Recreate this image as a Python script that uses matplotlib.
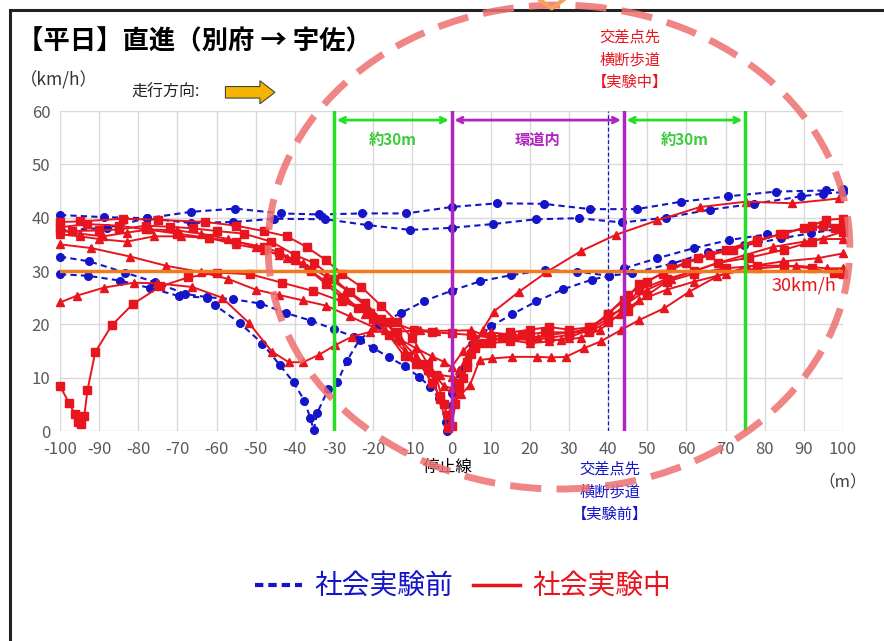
import numpy as np
import matplotlib
matplotlib.use("Agg")
import matplotlib.pyplot as plt
from matplotlib.lines import Line2D
from matplotlib.patches import Ellipse, FancyArrow

plt.rcParams['font.family'] = ['Noto Sans CJK JP', 'DejaVu Sans']
plt.rcParams['axes.unicode_minus'] = False

# --- 社会実験前 (blue, dashed) ---
b1_x = [-100, -88.7, -77.8, -66.5, -55.2, -43.5, -33.8, -22.8, -11.5, 0, 11.7, 23.5, 35.5, 47.3, 58.7, 70.6, 83, 95.6, 100]
b1_y = [40.5, 40.1, 39.9, 41.1, 41.7, 40.8, 40.6, 40.8, 40.8, 42.0, 42.7, 42.6, 41.6, 41.6, 43.0, 44.0, 44.9, 45.1, 45.3]
b2_x = [-100, -88, -77.8, -66.5, -55.7, -45.3, -32.2, -21.3, -10.5, 0, 10.5, 21.5, 32.5, 43.6, 54.7, 66, 77.3, 89.3, 95, 100]
b2_y = [37.6, 38.1, 39.9, 39.0, 39.2, 39.8, 39.7, 38.6, 37.7, 38.1, 38.8, 39.7, 39.9, 39.1, 40.0, 41.5, 42.6, 44.0, 44.5, 44.8]
b3_x = [-100, -92.5, -83.4, -75.7, -68, -62.5, -55.7, -48.8, -42.2, -35.9, -30.1, -25, -20.1, -15.9, -11.8, -8.4, -5.4, -3.2, -1.5, -1.1,
        0, 2.3, 5.3, 10, 15.5, 21.7, 28.6, 36, 40.2, 46, 56.4, 65.4, 74.8, 84.1, 91.8, 100]
b3_y = [32.7, 31.8, 29.7, 27.9, 25.7, 25.1, 24.7, 23.9, 22.1, 20.7, 19.1, 17.7, 15.6, 13.8, 12.1, 10.2, 8.3, 6.1, 1.7, 0.0,
        7.1, 11.4, 16.4, 19.6, 21.9, 24.3, 26.6, 28.4, 29.1, 29.6, 31.4, 33.5, 34.8, 36.1, 37.1, 38.0]
b4_x = [-100, -92.8, -84.7, -77, -69.6, -62.5, -60.4, -54, -48.3, -43.9, -40.3, -37.6, -36.1, -35.2, -34.3, -31.5, -29.2, -26.7, -23.5,
        -18.6, -13, -6.9, 0, 7.4, 15.1, 24, 32.1, 40.2, 44.1, 52.6, 62, 70.9, 80.7, 91, 100]
b4_y = [29.4, 29.1, 28.2, 26.8, 25.3, 25.0, 23.6, 20.2, 16.4, 12.4, 9.1, 5.7, 2.5, 0.2, 3.4, 7.8, 9.1, 13.2, 17.1,
        19.9, 22.1, 24.4, 26.3, 28.1, 29.2, 30.2, 29.9, 29.1, 30.5, 32.4, 34.3, 35.8, 36.9, 38.0, 38.6]

# --- 社会実験中 (red, solid) ---
r1_x = [-100, -95, -89, -83, -77, -70, -64, -57, -50, -44, -38, -32, -27, -22, -17, -13, -9, -5, -2, 0,
        2, 5, 8, 10.8, 17.2, 24.5, 33, 42, 52.6, 63.5, 75.2, 87.1, 99]
r1_y = [37.7, 37.0, 36.5, 37.2, 37.8, 37.6, 37.0, 36.0, 34.5, 33.0, 31.5, 29.0, 26.5, 23.5, 20.5, 17.0, 14.0, 11.0, 8.5, 8.0,
        11.5, 15.5, 19.0, 22.4, 26.1, 29.9, 33.7, 36.8, 39.5, 42.0, 43.0, 42.7, 43.6]
r2_x = [-100, -95, -84, -75, -63, -55, -48, -42, -37, -32, -28, -23, -18, -14, -10, -6, -3, -1,
        1, 3, 5, 8, 13, 18, 24, 30, 35, 40, 45, 50, 56, 63, 70, 78, 85, 92, 95.7, 100]
r2_y = [39.2, 39.3, 39.8, 39.6, 39.2, 38.5, 37.5, 36.5, 34.5, 32.0, 29.5, 27.0, 23.5, 20.5, 17.5, 12.5, 6.0, 0.5,
        5.0, 10.0, 14.5, 16.5, 17.5, 18.0, 18.5, 18.5, 19.0, 22.0, 25.5, 28.0, 30.5, 32.5, 34.0, 35.8, 37.0, 38.5, 39.6, 39.8]
r3_x = [-100, -97, -90, -85, -78, -72, -66, -60, -53, -46, -40, -35, -30, -26, -22, -18, -14, -11, -8, -5, -3, -1,
        2, 4, 6, 10, 15, 20, 25, 30, 35, 40, 44, 48, 55, 62, 68, 76, 85, 92, 100]
r3_y = [37.3, 37.5, 37.6, 37.8, 38.5, 38.3, 38.0, 37.5, 37.0, 35.5, 33.0, 31.5, 28.5, 26.0, 24.0, 21.0, 18.5, 14.0, 12.5, 9.0, 6.5, 3.0,
        8.0, 12.0, 16.0, 17.0, 17.5, 17.0, 17.5, 18.0, 19.5, 21.5, 23.0, 26.5, 28.5, 30.0, 31.5, 32.5, 34.0, 35.5, 37.4]
r4_x = [-100, -95, -90, -83, -76, -69, -62, -55, -48, -42, -37, -32, -27, -22, -17, -12, -9, -6, -3, 0,
        2.5, 4.7, 7.2, 10.4, 15.5, 21.9, 25.3, 29.2, 33.8, 38.1, 43.2, 47.9, 54.3, 60.7, 67.9, 75.6, 84.6, 93.5, 100]
r4_y = [36.9, 36.5, 36.0, 35.5, 36.5, 36.5, 36.2, 35.0, 34.0, 32.5, 30.5, 28.0, 25.0, 22.0, 19.0, 15.0, 13.0, 11.5, 10.5, 10.2,
        6.9, 8.6, 13.3, 13.6, 13.9, 13.9, 13.8, 13.9, 15.5, 16.8, 18.9, 20.8, 23.0, 26.1, 29.0, 30.8, 31.8, 32.4, 33.3]
r5_x = [-100, -92, -82, -73, -64, -57, -50, -44, -38, -32, -26, -20, -14, -9, -5, -2, 0,
        3, 6, 10, 16, 22, 28, 33, 38, 43, 48, 55, 62, 70, 78, 88, 96, 100]
r5_y = [35.0, 34.3, 32.7, 31.0, 29.8, 28.5, 26.5, 25.5, 24.5, 23.5, 21.5, 19.5, 17.5, 15.5, 14.0, 13.0, 12.0,
        15.0, 17.5, 18.5, 18.0, 17.5, 17.0, 17.5, 19.0, 22.0, 24.5, 26.5, 28.0, 29.5, 30.5, 31.0, 30.5, 30.5]
r6_x = [-100, -95.6, -88.7, -81.2, -75.3, -66.2, -58.6, -51.8, -45.9, -41.6, -37.9, -33.8, -29.7, -25.4, -20.7, -14.3, -8, -4, 0,
        5, 10, 15, 20, 25, 30, 35, 40, 45, 50, 56, 62, 68, 75, 82, 90, 95, 100]
r6_y = [24.1, 25.4, 26.9, 27.8, 27.7, 27.0, 25.0, 20.3, 14.9, 12.9, 12.9, 14.3, 16.1, 17.7, 18.6, 18.6, 18.9, 18.8, 18.8,
        18.9, 17.5, 17.0, 16.5, 16.8, 17.5, 19.0, 21.0, 24.0, 26.5, 28.5, 30.0, 31.5, 33.0, 34.5, 35.5, 36.0, 36.0]
r7_x = [-100, -97.7, -96.2, -95.3, -94.6, -93.8, -93, -91, -86.8, -81.4, -74.4, -67.3, -59.9, -51.4, -43.3, -35.5, -28, -20.7, -15.6,
        -9.6, -5, 0, 5, 10, 15, 20, 25, 30, 36, 40, 44, 48, 54, 60, 66, 72, 78, 84, 90, 95, 98, 100]
r7_y = [8.4, 5.3, 3.1, 1.7, 1.4, 2.9, 7.6, 14.8, 19.8, 23.8, 27.1, 28.8, 29.7, 29.4, 27.8, 26.3, 24.3, 22.2, 20.5,
        18.9, 18.5, 18.3, 18.0, 17.5, 18.5, 19.0, 19.5, 19.0, 19.5, 22.0, 24.5, 27.5, 29.5, 31.5, 33.0, 34.0, 35.5, 37.0, 38.0, 38.5, 38.0, 38.0]
r8_x = [-100, -93, -85, -78, -70, -62, -55, -48, -44, -40, -36, -32, -28, -24, -20, -16, -12, -9, -6, -4, -2, 0,
        2, 4, 6, 10, 15, 20, 25, 30, 35, 40, 45, 50, 55, 62, 70, 78, 85, 92, 97.7, 100]
r8_y = [38.2, 38.8, 38.5, 37.8, 37.0, 36.2, 35.5, 34.5, 33.5, 32.0, 30.0, 27.5, 25.0, 23.0, 21.0, 18.0, 14.0, 12.5, 11.5, 10.5, 5.0, 1.0,
        9.0, 13.0, 15.5, 16.5, 16.8, 17.5, 18.0, 18.5, 18.5, 20.5, 22.5, 25.5, 28.0, 29.5, 30.5, 31.0, 31.0, 30.5, 29.6, 29.5]

before_series = [(b1_x, b1_y), (b2_x, b2_y), (b3_x, b3_y), (b4_x, b4_y)]
during_series = [(r1_x, r1_y, '^'), (r2_x, r2_y, 's'), (r3_x, r3_y, 's'), (r4_x, r4_y, '^'),
                 (r5_x, r5_y, '^'), (r6_x, r6_y, '^'), (r7_x, r7_y, 's'), (r8_x, r8_y, 's')]

x_ticks = list(range(-100, 101, 10))
y_ticks = list(range(0, 61, 10))
limit_speed = 30
stop_line = 0
ring_end = 44
cross_before = 40
green_left = -30
green_right = 75

BLUE = '#1414C8'
RED = '#E8141E'
GREEN = '#22E022'
MAGENTA = '#B024C0'
ORANGE = '#F07A1E'

fig = plt.figure(figsize=(8.84, 6.41), dpi=100)
ax = fig.add_axes([0.0679, 0.3276, 0.8857, 0.4992])

ax.set_xlim(-100, 100)
ax.set_ylim(0, 60)
ax.set_xticks(x_ticks)
ax.set_yticks(y_ticks)
ax.tick_params(length=0, labelsize=12, colors='#595959', pad=7)
ax.grid(True, color='#d9d9d9', lw=1)
ax.set_axisbelow(True)
for s in ax.spines.values():
    s.set_visible(False)

for xs, ys in before_series:
    ax.plot(xs, ys, ls=(0, (3, 2)), color=BLUE, lw=1.5, marker='o', ms=5.5, clip_on=False, zorder=3)
for xs, ys, m in during_series:
    ax.plot(xs, ys, ls='-', color=RED, lw=1.4, marker=m, ms=5.5, clip_on=False, zorder=4)

ax.axhline(limit_speed, color=ORANGE, lw=2.5, zorder=5)
ax.axvline(cross_before, color=BLUE, lw=0.9, ls=(0, (3, 2)), zorder=2)
for xv in (green_left, green_right):
    ax.axvline(xv, color=GREEN, lw=2.5, zorder=6)
for xv in (stop_line, ring_end):
    ax.axvline(xv, color=MAGENTA, lw=2.5, zorder=6)

arrow_y = 58.3
ax.annotate('', xy=(green_left, arrow_y), xytext=(stop_line, arrow_y),
            arrowprops=dict(arrowstyle='<->', color=GREEN, lw=2))
ax.annotate('', xy=(stop_line, arrow_y), xytext=(ring_end, arrow_y),
            arrowprops=dict(arrowstyle='<->', color=MAGENTA, lw=2))
ax.annotate('', xy=(ring_end, arrow_y), xytext=(green_right, arrow_y),
            arrowprops=dict(arrowstyle='<->', color=GREEN, lw=2))
ax.text(-15, 54.6, '約30m', color='#3CCB3C', fontsize=11, fontweight='bold', ha='center', va='center')
ax.text(22, 54.6, '環道内', color=MAGENTA, fontsize=11, fontweight='bold', ha='center', va='center')
ax.text(59.5, 54.6, '約30m', color='#3CCB3C', fontsize=11, fontweight='bold', ha='center', va='center')

ax.text(90, 27.2, '30km/h', color=RED, fontsize=13, ha='center', va='center', zorder=7)
ax.text(-1, -6.9, '停止線', color='black', fontsize=12, ha='center', va='center', clip_on=False)
ax.text(40.5, -5.5, '交差点先\n横断歩道\n【実験前】', color=BLUE, fontsize=11, ha='center', va='top',
        linespacing=1.45, clip_on=False)
ax.text(45.5, 75.5, '交差点先\n横断歩道\n【実験中】', color=RED, fontsize=11, ha='center', va='top',
        linespacing=1.45, clip_on=False)
ax.text(100, -9.6, '（m）', color='#404040', fontsize=12, ha='center', va='center', clip_on=False)

# frame lines (left and top only)
fig.add_artist(Line2D([0.0113, 0.0113], [0, 0.984], color='#222222', lw=2.2, transform=fig.transFigure))
fig.add_artist(Line2D([0.0113, 1.0], [0.984, 0.984], color='#222222', lw=2.2, transform=fig.transFigure))

fig.text(0.019, 0.934, '【平日】直進（別府 → 宇佐）', fontsize=19, fontweight='bold', ha='left', va='center', color='black')
fig.text(0.022, 0.875, '（km/h）', fontsize=12.5, ha='left', va='center', color='#333333')
fig.text(0.149, 0.856, '走行方向:', fontsize=11.5, ha='left', va='center', color='#222222')
fig.add_artist(FancyArrow(0.255, 0.856, 0.056, 0, width=0.018, head_width=0.036, head_length=0.017,
                          length_includes_head=True, transform=fig.transFigure,
                          facecolor='#F5B400', edgecolor='#444444', lw=0.8))

# big dashed highlight ellipse
fig.add_artist(Ellipse((0.6323, 0.6146), 0.658, 0.755, transform=fig.transFigure, fill=False,
                       edgecolor='#EE7070', alpha=0.85, lw=5, ls=(0, (4.5, 2.2)), zorder=10))
fig.add_artist(Line2D([0.611, 0.6241, 0.637], [1.0, 0.987, 1.0], color='#F5A25A', lw=3,
                      transform=fig.transFigure, zorder=11))

handles = [Line2D([], [], color=BLUE, lw=3, ls=(0, (2, 1.2))),
           Line2D([], [], color=RED, lw=2.5)]
fig.legend(handles, ['社会実験前', '社会実験中'], loc='center', bbox_to_anchor=(0.524, 0.084),
           ncol=2, frameon=False, fontsize=20, handlelength=1.7, handletextpad=0.45, columnspacing=0.7,
           labelcolor=[BLUE, RED])

fig.savefig('out.png', dpi=100)
